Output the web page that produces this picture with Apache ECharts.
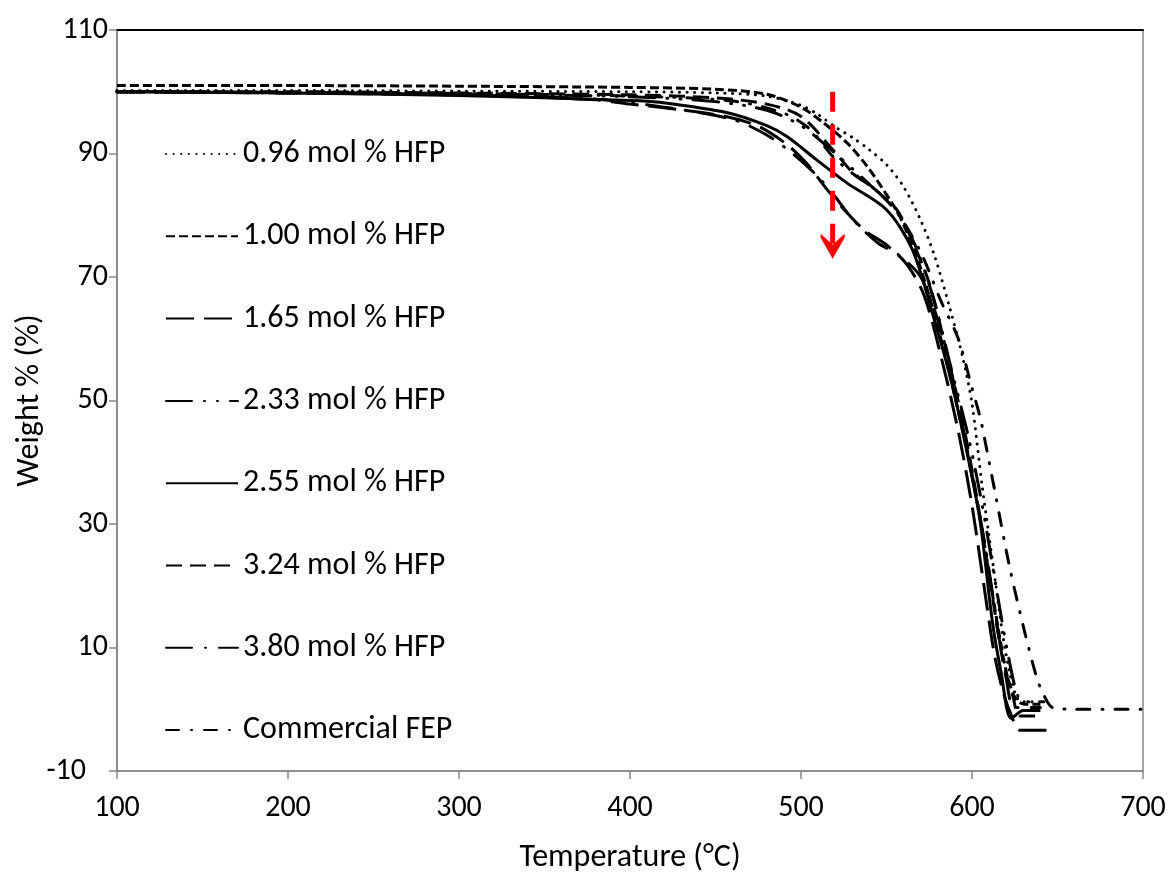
<!DOCTYPE html>
<html>
<head>
<meta charset="utf-8">
<script src="https://cdn.jsdelivr.net/npm/echarts@6/dist/echarts.min.js"></script>
<style>
html,body{margin:0;padding:0;background:#fff;}
#chart{width:1171px;height:874px;}
</style>
</head>
<body>
<div id="chart"></div>
<script>
// ---- data (temperature °C, weight %) ----
const seriesNames = ['0.96 mol % HFP','1.00 mol % HFP','1.65 mol % HFP','2.33 mol % HFP','2.55 mol % HFP','3.24 mol % HFP','3.80 mol % HFP','Commercial FEP'];

const t096 = [100,200,300,400,450,480,500,510,520,530,540,550,560,570,578,587,595,600,606,610,614,618,622,626,630,640];
const w096 = [100.2,100.2,100.1,100,99.8,99.3,97.8,96.3,94.3,92.6,90.6,88.2,84.6,79.2,73.5,65,56.5,49.5,36,28,20,12,6,2,1.2,1.2];

const t100 = [100,200,300,400,450,480,500,513,527,539,552,558,568,578,588,597,604,610,616,621,626,631,640];
const w100 = [101,101,100.9,100.7,100.4,99.6,97.5,95,91.7,87.8,82.5,79.7,73,64,53,42,32,22,12,5,1.5,0.8,0.8];

const t165 = [100,200,300,380,400,420,456,476,492,503,514,524,537,550,562,572,582,592,600,607,613,618,623,628,645];
const w165 = [100,99.8,99.5,98.7,98,97.4,96,94.3,91.4,88.5,84.6,81.3,77.6,75.2,72,67,57,45,33,20,9,3,-1,-3.4,-3.4];

const t233 = [100,200,300,400,450,480,500,520,540,555,567,578,588,598,606,614,621,627,632,642];
const w233 = [100,99.9,99.7,99.2,98.4,97,94.5,90,85,81,75,66,55,44,33,20,9,2,1.2,1.2];

const t255 = [100,200,300,400,417,457,480,492,509,527,550,565,577,588,599,605,612,617,623,630,640];
const w255 = [100,99.8,99.4,98.6,98.3,96.6,94.5,92.7,89,85.2,80.9,74.5,64,53,39,30,14,6,-1.5,-0.2,-0.2];

const t324 = [100,200,300,400,450,480,500,519,530,544,556,564,575,585,595,603,611,618,624,628,640];
const w324 = [100,100,99.8,99.5,99,98,96,90.5,87,84,80.9,76.5,69,58,46,34,20,8,2,-1.1,-1.1];

const t380 = [100,200,300,380,420,460,480,495,509,520,530,545,557,570,580,590,600,608,615,620,625,640];
const w380 = [100,99.8,99.5,98.8,97.5,95.5,93,90,86.5,83,79.4,75.5,73.6,70,63,52,38,26,13,5,0.3,0.3];

const tFEP = [100,200,300,400,460,490,505,519,530,544,556,570,582,592,600,605,609,614,622,631,638,642,647,660,700];
const wFEP = [100,99.9,99.7,99.3,98.5,96.5,94,89.4,86.8,84,80.5,74,66,60,52,47,41.5,34.4,23,12.3,5,2.3,0.3,0,0];

// red arrow (trend indicator)
const arrowX = [518.5, 518.5];
const arrowY = [100, 75];

// axes
const xTicks = {min: 100, max: 700, interval: 100};
const yTicks = {min: -10, max: 110, interval: 20};

// ---- chart ----
const FONT = 'Carlito, Calibri, Lato, "Open Sans", sans-serif';
const FS = 30;   // tick labels
const FS2 = 32;  // legend and axis names
const pairs = (t, w) => t.map((v, i) => [v, w[i]]);
const allT = [t096,t100,t165,t233,t255,t324,t380,tFEP];
const allW = [w096,w100,w165,w233,w255,w324,w380,wFEP];
const dashes = [
  {type:[0.1,7.5], cap:'round', width:3},
  {type:[9,4], cap:'butt', width:3},
  {type:[28,10], cap:'butt', width:3},
  {type:[26,12,1,12,1,12], cap:'round', width:3},
  {type:'solid', cap:'butt', width:3},
  {type:[16,8], cap:'butt', width:3},
  {type:[26,13,1,13], cap:'round', width:3},
  {type:[13,12,1,12], cap:'round', width:3}
];

const series = seriesNames.map((name, i) => ({
  name: name,
  type: 'line',
  data: pairs(allT[i], allW[i]),
  showSymbol: false,
  symbol: 'none',
  smooth: 0.3,
  lineStyle: {color:'#000', width:dashes[i].width, type:dashes[i].type, cap:dashes[i].cap},
  itemStyle: {color:'#000'},
  z: 3
}));

series.push({
  name: 'arrow',
  type: 'line',
  data: [
    {value:[arrowX[0], arrowY[0]], symbol:'none'},
    {value:[arrowX[1], arrowY[1]], symbol:'path://M0,0 L12,11 L24,0 L24,4 L12,25 L0,4 Z', symbolSize:[24,25]}
  ],
  showSymbol: true,
  lineStyle: {color:'#ff0000', width:5, type:[20,13]},
  itemStyle: {color:'#ff0000'},
  z: 5
});

const chart = echarts.init(document.getElementById('chart'), null, {renderer:'canvas'});
chart.setOption({
  animation: false,
  backgroundColor: '#fff',
  grid: {left:117, right:28, top:30, bottom:103, show:true, borderColor:'#868686', borderWidth:1.5,
         containLabel:false, outerBoundsMode:'none'},
  legend: {
    data: seriesNames,
    orient: 'vertical',
    left: 165, top: 138,
    padding: 0,
    itemWidth: 72, itemHeight: 14,
    itemGap: 50.3,
    itemStyle: {opacity: 0},
    textStyle: {fontFamily: FONT, fontSize: FS2, color:'#000', lineHeight: 30},
    selectedMode: false
  },
  xAxis: [{
    type: 'value',
    min: xTicks.min, max: xTicks.max, interval: xTicks.interval,
    name: 'Temperature (°C)', nameLocation:'middle', nameGap: 71, nameMoveOverlap: false,
    nameTextStyle: {fontFamily: FONT, fontSize: FS2, color:'#000'},
    axisLine: {show:true, onZero:false, lineStyle:{color:'#868686', width:1.5}},
    axisTick: {show:true, inside:false, length:8, lineStyle:{color:'#868686', width:1.5}},
    axisLabel: {fontFamily: FONT, fontSize: FS, color:'#000', margin: 22},
    splitLine: {show:false}
  }, {
    type: 'value', position:'top',
    min: xTicks.min, max: xTicks.max,
    axisLine: {show:true, onZero:false, lineStyle:{color:'#000', width:2}},
    axisTick:{show:false}, axisLabel:{show:false}, splitLine:{show:false}
  }],
  yAxis: {
    type: 'value',
    min: yTicks.min, max: yTicks.max, interval: yTicks.interval,
    name: 'Weight % (%)', nameLocation:'middle', nameGap: 71, nameMoveOverlap: false,
    nameTextStyle: {fontFamily: FONT, fontSize: FS2, color:'#000'},
    axisLine: {show:true, onZero:false, lineStyle:{color:'#868686', width:1.5}},
    axisTick: {show:true, inside:false, length:8, lineStyle:{color:'#868686', width:1.5}},
    axisLabel: {fontFamily: FONT, fontSize: FS, color:'#000', margin: 9,
      formatter: v => v < 0 ? '{neg|' + v + '}' : String(v),
      rich: {neg: {fontFamily: FONT, fontSize: FS, color:'#000', padding:[0,22,0,0]}}
    },
    splitLine: {show:false}
  },
  series: series
});
</script>
</body>
</html>
